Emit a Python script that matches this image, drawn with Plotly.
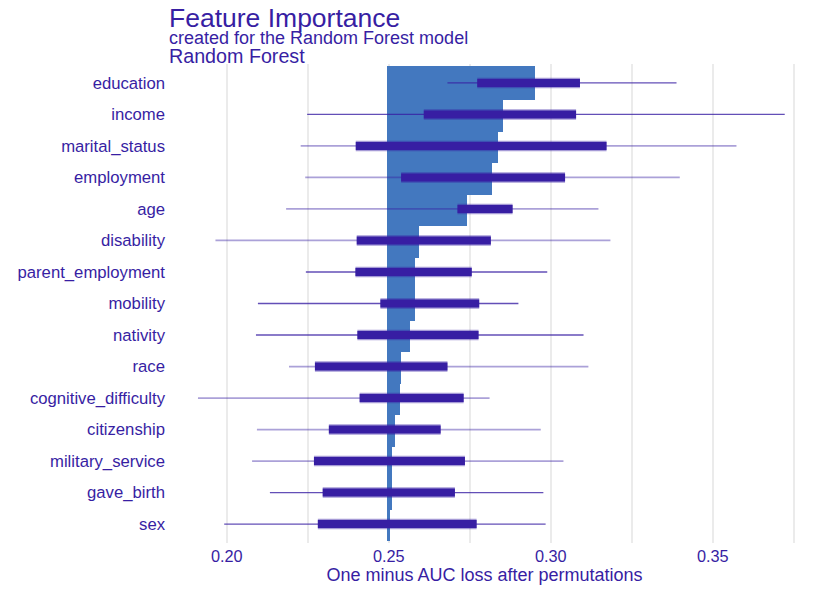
import plotly.graph_objects as go

# permutation importance
features = ["education", "income", "marital_status", "employment", "age",
            "disability", "parent_employment", "mobility", "nativity", "race",
            "cognitive_difficulty", "citizenship", "military_service",
            "gave_birth", "sex"]
full_model_loss = 0.2495
mean_loss = [0.2952, 0.2851, 0.2838, 0.2818, 0.2742, 0.2592, 0.2581, 0.2581,
             0.2565, 0.2539, 0.2536, 0.2519, 0.2511, 0.2511, 0.2504]
whisker_lo = [0.2681, 0.2248, 0.2228, 0.2242, 0.2183, 0.1965, 0.2244, 0.2096,
              0.2090, 0.2192, 0.1911, 0.2093, 0.2078, 0.2133, 0.1992]
box_lo = [0.2773, 0.2608, 0.2398, 0.2538, 0.2712, 0.2401, 0.2397, 0.2474,
          0.2403, 0.2272, 0.2410, 0.2315, 0.2269, 0.2296, 0.2281]
box_hi = [0.3090, 0.3078, 0.3172, 0.3044, 0.2882, 0.2815, 0.2756, 0.2779,
          0.2777, 0.2681, 0.2731, 0.2660, 0.2735, 0.2704, 0.2771]
whisker_hi = [0.3388, 0.3722, 0.3573, 0.3398, 0.3147, 0.3184, 0.2989, 0.2900,
              0.3101, 0.3116, 0.2811, 0.2969, 0.3039, 0.2977, 0.2984]

x_tickvals = [0.200, 0.225, 0.250, 0.275, 0.300, 0.325, 0.350, 0.375]
x_ticktext = ["0.20", "", "0.25", "", "0.30", "", "0.35", ""]

# style only: which whiskers come out darker in the reference
whisker_dark = [True, True, False, False, False, False, True, True, True,
                False, False, False, False, True, True]

PURPLE = '#371ea3'
BAR_BLUE = '#4378bf'
FONT = 'Arial, Liberation Sans, sans-serif'

fig = go.Figure()

# bars from the full model loss, drawn bottom-up so upper bars sit on top
fig.add_trace(go.Bar(
    y=features[::-1],
    x=[m - full_model_loss for m in mean_loss[::-1]],
    base=full_model_loss,
    orientation='h',
    width=1.1,
    marker=dict(color=BAR_BLUE, line=dict(width=0)),
    showlegend=False,
    hoverinfo='skip',
))


def _segments(lo, hi, keep):
    xs, ys = [], []
    for f, a, b, k in zip(features, lo, hi, keep):
        if k:
            xs += [a, b, None]
            ys += [f, f, None]
    return xs, ys


for dark, color, w in [(False, 'rgba(55,30,163,0.42)', 1.8),
                       (True, 'rgba(55,30,163,0.78)', 1.3)]:
    keep = [d == dark for d in whisker_dark]
    xs, ys = _segments(whisker_lo, whisker_hi, keep)
    fig.add_trace(go.Scatter(x=xs, y=ys, mode='lines',
                             line=dict(color=color, width=w),
                             showlegend=False, hoverinfo='skip'))

all_rows = [True] * len(features)
xs, ys = _segments(box_lo, box_hi, all_rows)
fig.add_trace(go.Scatter(x=xs, y=ys, mode='lines',
                         line=dict(color='rgba(55,30,163,0.45)', width=10.5),
                         showlegend=False, hoverinfo='skip'))
fig.add_trace(go.Scatter(x=xs, y=ys, mode='lines',
                         line=dict(color=PURPLE, width=8),
                         showlegend=False, hoverinfo='skip'))

fig.add_annotation(text='Feature Importance', xref='paper', yref='paper',
                   x=-0.003, y=1.097, xanchor='left', yanchor='middle',
                   showarrow=False, font=dict(family=FONT, size=26.5, color=PURPLE))
fig.add_annotation(text='created for the Random Forest model', xref='paper', yref='paper',
                   x=-0.003, y=1.0543, xanchor='left', yanchor='middle',
                   showarrow=False, font=dict(family=FONT, size=18, color=PURPLE))
fig.add_annotation(text='Random Forest', xref='paper', yref='paper',
                   x=-0.003, y=1.0159, xanchor='left', yanchor='middle',
                   showarrow=False, font=dict(family=FONT, size=19.7, color=PURPLE))

fig.update_layout(
    width=813, height=577,
    margin=dict(l=161, r=21, t=56, b=42),
    paper_bgcolor='white',
    plot_bgcolor='white',
    font=dict(family=FONT, color=PURPLE),
    barmode='overlay',
    bargap=0,
    xaxis=dict(
        range=[0.18216, 0.37691],
        tickvals=x_tickvals,
        ticktext=x_ticktext,
        showgrid=True, gridcolor='#ebebeb', gridwidth=2,
        zeroline=False, showline=False, ticks='',
        automargin=False,
        ticklabelstandoff=2,
        tickfont=dict(size=16.3, color=PURPLE),
        title=dict(text='One minus AUC loss after permutations',
                   font=dict(size=18, color=PURPLE), standoff=9),
    ),
    yaxis=dict(
        type='category',
        categoryorder='array', categoryarray=features,
        range=[14.6, -0.6],
        showgrid=False, zeroline=False, showline=False, ticks='',
        automargin=False,
        ticklabelstandoff=3,
        tickfont=dict(size=16.7, color=PURPLE),
    ),
)

fig.write_html("out.html")
